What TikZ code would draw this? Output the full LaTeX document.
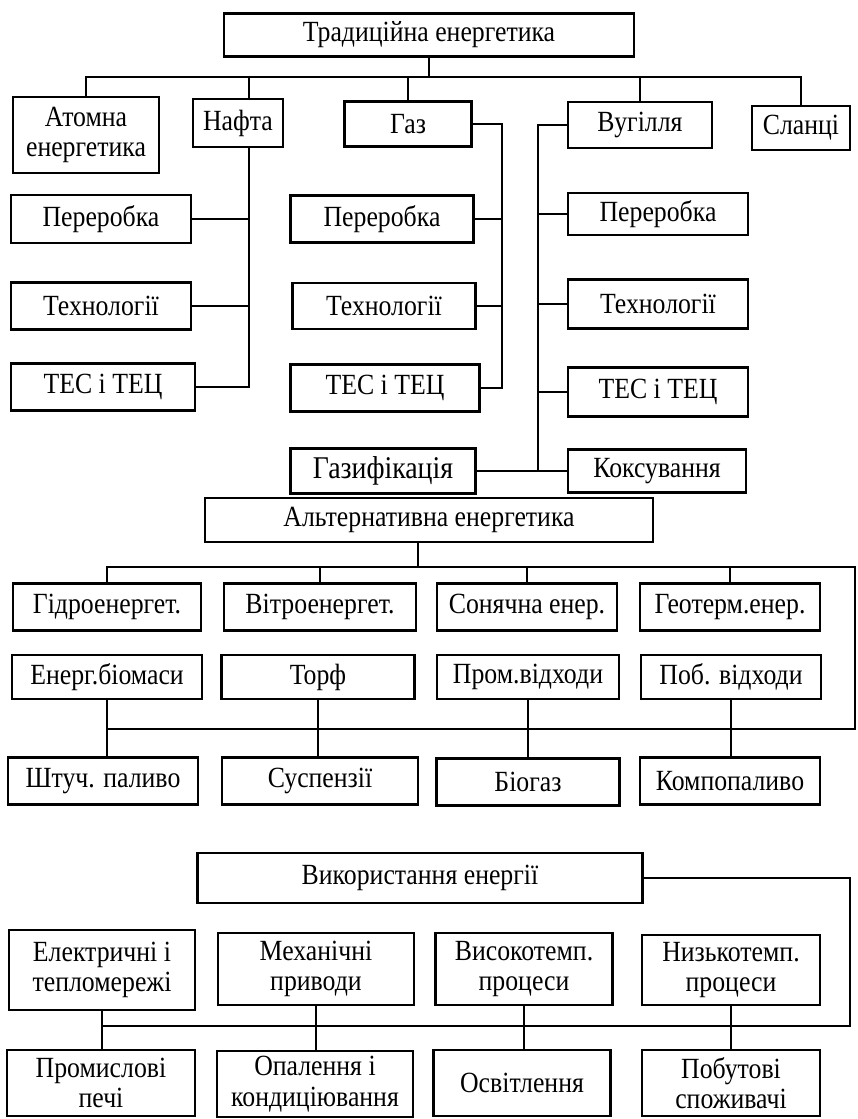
\documentclass[tikz,border=0pt]{standalone}
\usepackage{fontspec}
\setmainfont{Liberation Serif}[FakeStretch = 0.88]
\begin{document}
\begin{tikzpicture}[x = 0.3mm, y = -0.3mm,
        box/.style  = {draw, line width = 2.2pt, align = center, inner sep = 2pt,
                       font = \fontsize{25}{26}\selectfont},
        bx/.style 2 args = {minimum width = #1*0.3mm, minimum height = #2*0.3mm},
        link/.style = {line width = 1.6pt, line cap = rect}]
                \fill [white] (0,0) rectangle (857,1119);
                \useasboundingbox (0,0) rectangle (857,1119);

                \node [box, bx = {410}{43}] (trad) at (429,35)    {Традиційна енергетика};
                \node [box, bx = {146}{76}] (atom) at (86,135)    {Атомна\\енергетика};
                \node [box, bx = {90}{48}]  (naft) at (238,123)   {Нафта};
                \node [box, bx = {127}{45}] (gaz)  at (408,124)   {Газ};
                \node [box, bx = {144}{46}] (vug)  at (640,125)   {Вугілля};
                \node [box, bx = {98}{44}]  (slan) at (801,128)   {Сланці};

                \node [box, bx = {180}{48}] (np)   at (101,219)   {Переробка};
                \node [box, bx = {180}{47}] (nt)   at (101,306)   {Технології};
                \node [box, bx = {184}{47}] (nc)   at (103,387)   {ТЕС і ТЕЦ};

                \node [box, bx = {183}{47}] (gp)   at (382,219)   {Переробка};
                \node [box, bx = {183}{46}] (gt)   at (384,306)   {Технології};
                \node [box, bx = {189}{47}] (gc)   at (385,388)   {ТЕС і ТЕЦ};
                \node [box, bx = {185}{45}, font = \fontsize{27}{28}\selectfont]
                                            (gf)   at (383,471)   {Газифікація};

                \node [box, bx = {180}{42}] (vp)   at (658,214)   {Переробка};
                \node [box, bx = {180}{49}] (vt)   at (658,304)   {Технології};
                \node [box, bx = {180}{49}] (vc)   at (658,392)   {ТЕС і ТЕЦ};
                \node [box, bx = {178}{43}] (kok)  at (657,471)   {Коксування};

                \coordinate (tb) at (0,77);
                \coordinate (nx) at (249,77);
                \coordinate (gx) at (502,0);
                \coordinate (vx) at (538,0);

                \draw [link] (trad.south) -- (trad.south |- tb);
                \draw [link] (atom.north |- tb) -- (slan.north |- tb);
                \foreach \n in {atom,gaz,vug,slan}
                    \draw [link] (\n.north) -- (\n.north |- tb);
                \draw [link] (nx) -- (nx |- naft.north);
                \draw [link] (nx |- naft.south) -- (nx |- nc.east);
                \foreach \n in {np,nt,nc}
                    \draw [link] (\n.east) -- (\n.east -| nx);
                \draw [link] (gaz.east) -- (gaz.east -| gx) -- (gx |- gc.east);
                \foreach \n in {gp,gt,gc}
                    \draw [link] (\n.east) -- (\n.east -| gx);
                \draw [link] (vug.west) -- (vug.west -| vx) -- (vx |- kok.west);
                \foreach \n in {vp,vt,vc}
                    \draw [link] (\n.west) -- (\n.west -| vx);
                \draw [link] (gf.east) -- (kok.west);

                \node [box, bx = {448}{44}] (alt)  at (429,520)   {Альтернативна енергетика};

                \node [box, bx = {188}{47}] (hyd)  at (107,607)   {Гідроенергет.};
                \node [box, bx = {192}{47}] (wind) at (320,607)   {Вітроенергет.};
                \node [box, bx = {180}{47}] (sun)  at (527,607)   {Сонячна енер.};
                \node [box, bx = {180}{47}] (geo)  at (730,607)   {Геотерм.енер.};

                \node [box, bx = {190}{44}] (bio)  at (107,677)   {Енерг.біомаси};
                \node [box, bx = {193}{44}] (torf) at (318,677)   {Торф};
                \node [box, bx = {182}{44}] (prom) at (528,677)   {Пром.відходи};
                \node [box, bx = {180}{44}] (pob)  at (731,677)   {Поб. відходи};

                \node [box, bx = {190}{47}] (fuel) at (103,781)   {Штуч. паливо};
                \node [box, bx = {196}{47}] (susp) at (320,781)   {Суспензії};
                \node [box, bx = {183}{47}] (biog) at (528,782)   {Біогаз};
                \node [box, bx = {180}{47}] (komp) at (730,781)   {Компопаливо};

                \coordinate (ax) at (418,567);
                \coordinate (ar) at (855,567);
                \coordinate (aq) at (855,729);

                \draw [link] (ax |- alt.south) -- (ax);
                \draw [link] (hyd.north |- ar) -- (ar) -- (aq) -- (aq -| bio.south);
                \foreach \n in {hyd,wind,sun,geo}
                    \draw [link] (\n.north) -- (\n.north |- ar);
                \foreach \a/\b in {bio/fuel,torf/susp,prom/biog,pob/komp}
                    \draw [link] (\a.south) -- (\a.south |- \b.north);

                \node [box, bx = {445}{50}] (use)  at (420,878)   {Використання енергії};

                \node [box, bx = {186}{80}] (el)   at (102,970)   {Електричні і\\тепломережі};
                \node [box, bx = {196}{72}] (mech) at (316,969)   {Механічні\\приводи};
                \node [box, bx = {177}{72}] (high) at (524,969)   {Високотемп.\\процеси};
                \node [box, bx = {178}{70}] (low)  at (731,970)   {Низькотемп.\\процеси};

                \node [box, bx = {188}{66}] (ind)  at (101,1083)  {Промислові\\печі};
                \node [box, bx = {196}{66}] (heat) at (315,1084)  {Опалення і\\кондиціювання};
                \node [box, bx = {177}{66}] (light) at (522,1083) {Освітлення};
                \node [box, bx = {178}{66}] (home) at (731,1083)  {Побутові\\споживачі};

                \coordinate (ur) at (850,1026);

                \draw [link] (use.east) -- (use.east -| ur) -- (ur) -- (ur -| el.south);
                \foreach \a/\b in {el/ind,mech/heat,high/light,low/home}
                    \draw [link] (\a.south) -- (\a.south |- \b.north);
            \end{tikzpicture}
\end{document}
